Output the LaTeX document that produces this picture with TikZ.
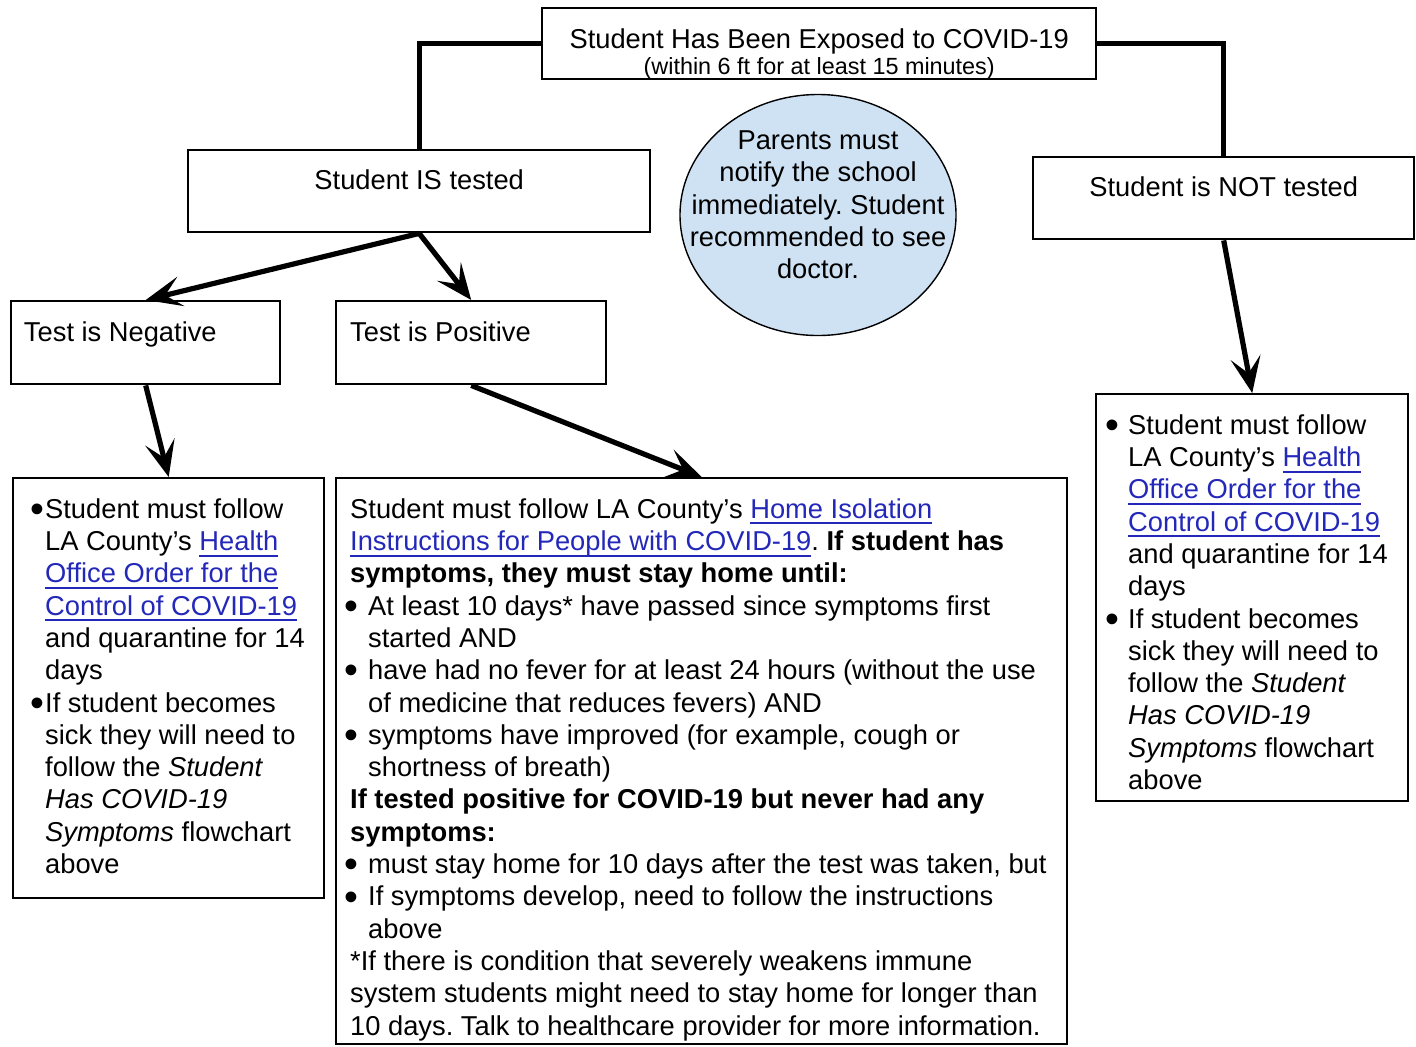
\documentclass[tikz,border=0pt]{standalone}
\usepackage{fontspec}
\setmainfont{Liberation Sans}
\usetikzlibrary{arrows.meta,shapes.geometric}
\definecolor{linkblue}{RGB}{35,40,185}
\definecolor{bubblefill}{RGB}{207,226,243}
\newcommand{\bodyfont}{\fontsize{13.65}{16.15}\selectfont\frenchspacing}
\newsavebox{\lnkbox}
\newcommand{\lnk}[1]{\sbox{\lnkbox}{\color{linkblue}#1}%
    \textcolor{linkblue}{\rlap{\rule[-3pt]{\wd\lnkbox}{0.9pt}}}\usebox{\lnkbox}}
\newcommand{\bul}[1]{\leavevmode\llap{\raisebox{-2.1pt}{\scalebox{1.45}{\textbullet}}\hspace{#1}}}

\begin{document}
\begin{tikzpicture}[x=0.5pt, y=-0.5pt,
    box/.style={draw, line width=1.2pt, rectangle, inner sep=0pt, anchor=north west},
    bubble/.style={draw, line width=0.7pt, ellipse, fill=bubblefill, inner sep=-30pt,
        minimum width=138pt, minimum height=120.5pt},
    conn/.style={line width=2.6pt},
    arrowconn/.style={conn, -{Stealth[length=18pt, width=15pt, inset=8pt]}}]
    \useasboundingbox (0,0) rectangle (1416,1046);

    % Top of the chart
    \node[box] (exposed) at (541,7) {\parbox[t][35.5pt][t]{277pt}{\centering\bodyfont
        \rule{0pt}{20pt}Student Has Been Exposed to COVID-19\\
        \fontsize{11.7}{13}\selectfont (within 6 ft for at least 15 minutes)}};

    % Two branches
    \node[box] (tested) at (187,149) {\parbox[t][41pt][t]{231pt}{\centering\bodyfont
        \rule{0pt}{19.5pt}Student IS tested}};
    \node[box] (nottested) at (1032,156) {\parbox[t][41pt][t]{190.5pt}{\centering\bodyfont
        \rule{0pt}{19.5pt}Student is NOT tested}};

    % Note in the middle
    \node[bubble] (notify) at (818,215) {\parbox{140pt}{\bodyfont\centering
        Parents must\\ notify the school\\ immediately. Student\\ recommended to see\\ doctor.\par\vspace{10pt}}};

    % Test results
    \node[box] (negative) at (10,300) {\parbox[t][41.5pt][t]{134.5pt}{\bodyfont
        \leftskip=6.4pt\rule{0pt}{20pt}Test is Negative}};
    \node[box] (positive) at (335,300) {\parbox[t][41.5pt][t]{135pt}{\bodyfont
        \leftskip=7pt\rule{0pt}{20pt}Test is Positive}};

    % What to do
    \node[box] (negsteps) at (12,477) {\parbox[t][210pt][t]{155.5pt}{\bodyfont\raggedright\leftskip=16pt
        \rule{0pt}{20pt}\bul{0.5pt}Student must follow\\
        LA County’s \lnk{Health}\\
        \lnk{Office Order for the}\\
        \lnk{Control of COVID-19}\\
        and quarantine for 14\\
        days\\
        \bul{0.5pt}If student becomes\\
        sick they will need to\\
        follow the \textit{Student}\\
        \textit{Has COVID-19}\\
        \textit{Symptoms} flowchart\\
        above}};

    \node[box] (possteps) at (335,477) {\parbox[t][283pt][t]{365.5pt}{\bodyfont\raggedright
        \leftskip=7pt\rule{0pt}{20pt}Student must follow LA County’s \lnk{Home Isolation}\\
        \lnk{Instructions for People with COVID-19}. \textbf{If student has}\\
        \textbf{symptoms, they must stay home until:}\par
        \leftskip=16pt\bul{5pt}At least 10 days* have passed since symptoms first\\
        started AND\\
        \bul{5pt}have had no fever for at least 24 hours (without the use\\
        of medicine that reduces fevers) AND\\
        \bul{5pt}symptoms have improved (for example, cough or\\
        shortness of breath)\par
        \leftskip=7pt\textbf{If tested positive for COVID-19 but never had any}\\
        \textbf{symptoms:}\par
        \leftskip=16pt\bul{5pt}must stay home for 10 days after the test was taken, but\\
        \bul{5pt}If symptoms develop, need to follow the instructions\\
        above\par
        \leftskip=7pt*If there is condition that severely weakens immune\\
        system students might need to stay home for longer than\\
        10 days. Talk to healthcare provider for more information.}};

    \node[box] (notsteps) at (1095,393) {\parbox[t][203.5pt][t]{156pt}{\bodyfont\raggedright\leftskip=16pt
        \rule{0pt}{20pt}\bul{4.5pt}Student must follow\\
        LA County’s \lnk{Health}\\
        \lnk{Office Order for the}\\
        \lnk{Control of COVID-19}\\
        and quarantine for 14\\
        days\\
        \bul{4.5pt}If student becomes\\
        sick they will need to\\
        follow the \textit{Student}\\
        \textit{Has COVID-19}\\
        \textit{Symptoms} flowchart\\
        above}};

    % Connectors
    \draw[conn] (exposed.west) -| (tested.north);
    \draw[conn] (exposed.east) -| (nottested.north);
    \draw[arrowconn] (tested.south) -- (negative.north);
    \draw[arrowconn] (tested.south) -- (positive.north);
    \draw[arrowconn] (negative.south) -- (negsteps.north);
    \draw[arrowconn] (positive.south) -- (possteps.north);
    \draw[arrowconn] (nottested.south) -- (notsteps.north);
\end{tikzpicture}
\end{document}
